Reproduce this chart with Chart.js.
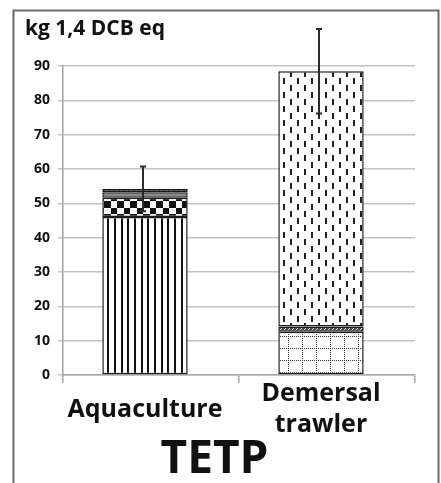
<!DOCTYPE html>
<html>
<head>
<meta charset="utf-8">
<script src="https://cdn.jsdelivr.net/npm/chart.js@4.4.1/dist/chart.umd.min.js"></script>
<style>
  html, body { margin: 0; padding: 0; background: #fff; }
  #wrap { width: 441px; height: 483px; position: relative; }
</style>
</head>
<body>
<div id="wrap"><canvas id="c"></canvas></div>
<script>
// Categories and stacked contributions (kg 1,4 DCB eq)
const categories = [['Aquaculture'], ['Demersal', 'trawler']];
const aquacultureParts = [46.0, 5.6, 1.6, 1.0];   // bottom to top
const trawlerParts = [12.6, 1.5, 74.4];           // bottom to top
const errorMargins = [6.5, 12.3];
const yTickMax = 90;
const yTickStep = 10;
const unitLabel = 'kg 1,4 DCB eq';
const categoryTitle = 'TETP';

// Fill patterns for the stacked segments
function makePattern(w, h, paint) {
  const c = document.createElement('canvas');
  c.width = w; c.height = h;
  const g = c.getContext('2d');
  g.fillStyle = '#fff';
  g.fillRect(0, 0, w, h);
  paint(g);
  return g.createPattern(c, 'repeat');
}
const stripes = makePattern(20, 1, g => {
  g.fillStyle = '#111';
  [0, 7, 13].forEach(x => g.fillRect(x, 0, 2, 1));
});
const checker = makePattern(13, 13, g => {
  g.fillStyle = '#111';
  g.fillRect(0, 0, 6, 6);
  g.fillRect(6, 6, 7, 7);
});
const greyBand = '#8c8c8c';
const dottedCap = makePattern(5, 3, g => {
  g.fillStyle = '#2a2a2a';
  g.fillRect(0, 0, 5, 3);
  g.fillStyle = '#9a9a9a';
  g.fillRect(1, 1, 3, 1);
});
const dotGrid = makePattern(14, 12, g => {
  g.fillStyle = '#333';
  for (let x = 0; x < 14; x += 2) g.fillRect(x, 0, 1, 1);
  for (let y = 0; y < 12; y += 2) g.fillRect(0, y, 1, 1);
});
const hatch = makePattern(4, 4, g => {
  g.fillStyle = '#4a4a4a';
  g.fillRect(0, 0, 4, 4);
  g.fillStyle = '#ddd';
  g.fillRect(0, 3, 1, 1); g.fillRect(1, 2, 1, 1); g.fillRect(2, 1, 1, 1); g.fillRect(3, 0, 1, 1);
});
const dashes = makePattern(14, 14, g => {
  g.fillStyle = '#222';
  g.fillRect(2, 1, 2, 6);
  g.fillRect(9, 8, 2, 6);
});

const aquaFills = [stripes, checker, greyBand, dottedCap];
const trawlerFills = [dotGrid, hatch, dashes];

function segment(value, fill, index) {
  const data = [null, null];
  data[index] = value;
  return {
    data,
    backgroundColor: fill,
    borderColor: '#1a1a1a',
    borderWidth: 1.5,
    borderSkipped: false,
    barPercentage: 0.485,
    categoryPercentage: 1.0,
    stack: 'total'
  };
}
const datasets = [
  ...aquacultureParts.map((v, i) => segment(v, aquaFills[i], 0)),
  ...trawlerParts.map((v, i) => segment(v, trawlerFills[i], 1))
];

// Bars sit slightly left of the category centres
const barShift = -6;

const framePlugin = {
  id: 'frame',
  beforeDraw(chart) {
    const { ctx, width, height } = chart;
    ctx.save();
    ctx.fillStyle = '#fff';
    ctx.fillRect(0, 0, width, height);
    ctx.strokeStyle = '#6b6b6b';
    ctx.lineWidth = 2;
    ctx.beginPath();
    ctx.moveTo(13.5, height);
    ctx.lineTo(13.5, 10.5);
    ctx.lineTo(438.5, 10.5);
    ctx.lineTo(438.5, height);
    ctx.stroke();
    ctx.restore();
  },
  afterDraw(chart) {
    const { ctx } = chart;
    ctx.save();
    ctx.fillStyle = '#111';
    ctx.textBaseline = 'alphabetic';
    ctx.textAlign = 'left';
    ctx.font = 'bold 21px "Open Sans"';
    ctx.fillText(unitLabel, 25, 35);
    ctx.textAlign = 'center';
    ctx.font = 'bold 46px "Open Sans"';
    ctx.fillText(categoryTitle, 214.5, 473);
    ctx.restore();
  }
};

const errorBarPlugin = {
  id: 'errorBars',
  beforeDatasetsDraw(chart) {
    chart.ctx.save();
    chart.ctx.translate(barShift, 0);
  },
  afterDatasetsDraw(chart) {
    const { ctx } = chart;
    const y = chart.scales.y;
    const totals = [
      aquacultureParts.reduce((a, b) => a + b, 0),
      trawlerParts.reduce((a, b) => a + b, 0)
    ];
    ctx.strokeStyle = '#2a2a2a';
    ctx.lineWidth = 2;
    totals.forEach((t, i) => {
      const dsIndex = i === 0 ? 0 : aquacultureParts.length;
      const x = chart.getDatasetMeta(dsIndex).data[i].x - 2;
      const yTop = y.getPixelForValue(t + errorMargins[i]);
      const yBot = y.getPixelForValue(t - errorMargins[i]);
      ctx.beginPath();
      ctx.moveTo(x, yTop); ctx.lineTo(x, yBot);
      ctx.moveTo(x - 3, yTop); ctx.lineTo(x + 3, yTop);
      ctx.moveTo(x - 3, yBot); ctx.lineTo(x + 3, yBot);
      ctx.stroke();
    });
    ctx.restore();
  }
};

new Chart(document.getElementById('c'), {
  type: 'bar',
  data: { labels: categories, datasets },
  options: {
    responsive: true,
    maintainAspectRatio: false,
    devicePixelRatio: 1,
    animation: false,
    layout: { padding: { left: 0, right: 26, top: 66, bottom: 0 } },
    plugins: { legend: { display: false }, tooltip: { enabled: false } },
    scales: {
      x: {
        stacked: true,
        afterFit(scale) { scale.height = 108; },
        grid: { display: true, drawOnChartArea: false, drawTicks: true, tickLength: 8, color: '#a8a8a8', lineWidth: 1.5 },
        border: { display: true, color: '#a8a8a8', width: 1.5 },
        ticks: {
          color: '#111',
          font: { family: 'Open Sans', weight: 'bold', size: 25, lineHeight: '31px' },
          padding: 11,
          crossAlign: 'center',
          labelOffset: barShift,
          maxRotation: 0,
          autoSkip: false
        }
      },
      y: {
        stacked: true,
        min: 0,
        max: yTickMax,
        afterFit(scale) { scale.width = 63; },
        grid: { color: '#c4c4c4', lineWidth: 1.5, tickLength: 5 },
        border: { display: true, color: '#a0a0a0', width: 1.5 },
        ticks: {
          stepSize: yTickStep,
          color: '#111',
          padding: 8,
          font: { family: 'Open Sans', weight: 'bold', size: 14 }
        }
      }
    }
  },
  plugins: [framePlugin, errorBarPlugin]
});
</script>
</body>
</html>
